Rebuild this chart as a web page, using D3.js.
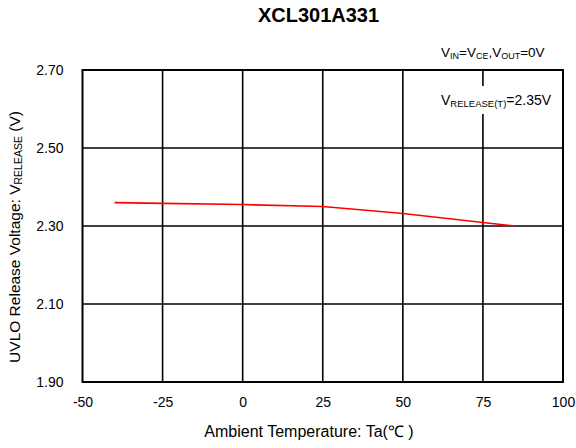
<!DOCTYPE html>
<html><head><meta charset="utf-8">
<script src="https://cdn.jsdelivr.net/npm/d3@7"></script>
<style>
body{margin:0;background:#fff;}
svg{display:block;font-family:"Liberation Sans",Arial,sans-serif;}
</style></head>
<body><svg id="c" width="576" height="448"></svg>
<script>
const temps = [-40, -25, 0, 25, 50, 75, 85];
const vrelease = [2.360, 2.358, 2.355, 2.350, 2.332, 2.309, 2.300];
const xTicks = [-50, -25, 0, 25, 50, 75, 100];
const yTicks = [1.90, 2.10, 2.30, 2.50, 2.70];

const svg = d3.select("#c");
const L = 82.5, R = 563, T = 70, B = 382;
const x = d3.scaleLinear().domain([-50, 100]).range([L, R]);
const y = d3.scaleLinear().domain([1.90, 2.70]).range([B, T]);

// grid
const g = svg.append("g");
g.selectAll(".vx").data(xTicks.slice(1, -1)).enter().append("line")
  .attr("x1", d => x(d)).attr("x2", d => x(d)).attr("y1", T).attr("y2", B)
  .attr("stroke", "#000").attr("stroke-width", 1.6);
g.selectAll(".hy").data(yTicks.slice(1, -1)).enter().append("line")
  .attr("x1", L).attr("x2", R).attr("y1", d => y(d)).attr("y2", d => y(d))
  .attr("stroke", "#000").attr("stroke-width", 1.6);

// data line
svg.append("path").datum(temps.map((t, i) => [t, vrelease[i]]))
  .attr("d", d3.line().x(d => x(d[0])).y(d => y(d[1])))
  .attr("fill", "none").attr("stroke", "#ff0000").attr("stroke-width", 1.6);

// annotation box (covers gridline)
svg.append("rect").attr("x", 437).attr("y", 86).attr("width", 120).attr("height", 28).attr("fill", "#fff");
const ann = svg.append("text").attr("x", 441).attr("y", 105).attr("font-size", 14).attr("fill", "#000");
ann.append("tspan").text("V");
ann.append("tspan").attr("font-size", 9.5).attr("dy", 2).text("RELEASE(T)");
ann.append("tspan").attr("dy", -2).text("=2.35V");

// frame
svg.append("rect").attr("x", L).attr("y", T).attr("width", R - L).attr("height", B - T)
  .attr("fill", "none").attr("stroke", "#000").attr("stroke-width", 2);

// axes labels via d3 axes
const xa = svg.append("g").attr("transform", `translate(0,${B})`)
  .call(d3.axisBottom(x).tickValues(xTicks).tickSize(0).tickPadding(15).tickFormat(d => String(d)));
xa.select(".domain").remove();
xa.selectAll("text").attr("font-size", 14).attr("font-family", '"Liberation Sans",Arial,sans-serif').attr("fill", "#000");

const ya = svg.append("g").attr("transform", `translate(${L},0)`)
  .call(d3.axisLeft(y).tickValues(yTicks).tickSize(0).tickPadding(19).tickFormat(d3.format(".2f")));
ya.select(".domain").remove();
ya.selectAll("text").attr("font-size", 14).attr("font-family", '"Liberation Sans",Arial,sans-serif').attr("fill", "#000");

// title
svg.append("text").attr("x", 318.5).attr("y", 22).attr("text-anchor", "middle")
  .attr("font-size", 20).attr("font-weight", "bold").text("XCL301A331");

// condition text
const cond = svg.append("text").attr("x", 441).attr("y", 57).attr("font-size", 13.5);
cond.append("tspan").text("V");
cond.append("tspan").attr("font-size", 9).attr("dy", 2).text("IN");
cond.append("tspan").attr("dy", -2).text("=V");
cond.append("tspan").attr("font-size", 9).attr("dy", 2).text("CE");
cond.append("tspan").attr("dy", -2).text(",V");
cond.append("tspan").attr("font-size", 9).attr("dy", 2).text("OUT");
cond.append("tspan").attr("dy", -2).text("=0V");

// x title
svg.append("text").attr("x", 309).attr("y", 437).attr("text-anchor", "middle")
  .attr("font-size", 16).text("Ambient Temperature: Ta(℃ )");

// y title
const yt = svg.append("text").attr("transform", "translate(20,237) rotate(-90)")
  .attr("text-anchor", "middle").attr("font-size", 15.5);
yt.append("tspan").text("UVLO Release Voltage: V");
yt.append("tspan").attr("font-size", 10.5).attr("dy", 2).text("RELEASE");
yt.append("tspan").attr("dy", -2).text(" (V)");
</script></body></html>
